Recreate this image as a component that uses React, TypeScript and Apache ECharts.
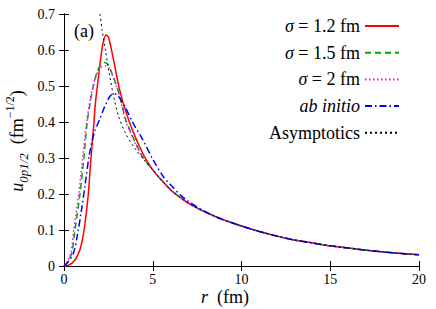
import React, { useEffect, useRef } from "react";
import * as echarts from "echarts";

// ---- data ----
const tailR = [5, 5.5, 6, 6.5, 7, 7.5, 8, 8.5, 9, 10, 11, 12, 13, 14, 15, 16, 17, 18, 19, 20];
const tailU = [0.267, 0.238, 0.212, 0.192, 0.175, 0.161, 0.149, 0.138, 0.128, 0.111, 0.096, 0.083, 0.072, 0.064, 0.056, 0.05, 0.044, 0.039, 0.035, 0.031];

const redR = [0, 0.3, 0.6, 0.8, 0.95, 1.1, 1.25, 1.37, 1.52, 1.69, 1.77, 1.88, 2.05, 2.2, 2.37, 2.5, 2.7, 2.9, 3.1, 3.3, 3.46, 3.7, 4.0, 4.3, 4.6];
const redU = [0, 0.003, 0.015, 0.033, 0.054, 0.09, 0.145, 0.2, 0.3, 0.4, 0.452, 0.5, 0.57, 0.62, 0.642, 0.636, 0.595, 0.545, 0.497, 0.458, 0.433, 0.398, 0.36, 0.327, 0.298];

const greenR = [0, 0.15, 0.43, 0.62, 0.9, 1.12, 1.31, 1.5, 1.65, 1.85, 2.05, 2.29, 2.5, 2.7, 2.97, 3.2, 3.49, 3.8, 4.1, 4.5];
const greenU = [0, 0.007, 0.035, 0.1, 0.2, 0.3, 0.4, 0.46, 0.5, 0.537, 0.558, 0.565, 0.558, 0.535, 0.5, 0.46, 0.405, 0.368, 0.335, 0.298];

const magentaR = [0, 0.15, 0.4, 0.55, 0.83, 1.05, 1.28, 1.45, 1.6, 1.8, 2.05, 2.33, 2.55, 2.75, 2.95, 3.2, 3.45, 3.8, 4.1, 4.5];
const magentaU = [0, 0.008, 0.04, 0.1, 0.2, 0.3, 0.4, 0.455, 0.49, 0.528, 0.55, 0.556, 0.55, 0.528, 0.5, 0.457, 0.405, 0.365, 0.332, 0.298];

const blueR = [0, 0.24, 0.53, 0.75, 1.0, 1.2, 1.43, 1.7, 1.99, 2.2, 2.41, 2.6, 2.8, 3.0, 3.2, 3.46, 3.9, 4.39, 5.03, 5.6, 6.0, 6.54, 7.0, 7.5, 8.0];
const blueU = [0, 0.012, 0.035, 0.085, 0.16, 0.23, 0.31, 0.37, 0.405, 0.432, 0.455, 0.472, 0.479, 0.475, 0.462, 0.44, 0.396, 0.355, 0.294, 0.248, 0.226, 0.198, 0.18, 0.164, 0.15];

const asymR = [2.03, 2.15, 2.33, 2.55, 2.8, 3.08, 3.46, 3.93, 4.58];
const asymU = [0.7, 0.655, 0.6, 0.535, 0.47, 0.415, 0.369, 0.331, 0.29];

const xTicks = [0, 5, 10, 15, 20];
const yTicks = [0, 0.1, 0.2, 0.3, 0.4, 0.5, 0.6, 0.7];

const seriesNames = ["σ = 1.2 fm", "σ = 1.5 fm", "σ = 2 fm", "ab initio", "Asymptotics"];

const FONT = "Liberation Serif";

function pairs(r: number[], u: number[], withTailFrom?: number) {
  const out: number[][] = r.map((x, i) => [x, u[i]]);
  if (withTailFrom !== undefined) {
    tailR.forEach((x, i) => {
      if (x >= withTailFrom) out.push([x, tailU[i]]);
    });
  }
  return out;
}

export default function App() {
  const ref = useRef<HTMLDivElement>(null);
  useEffect(() => {
    if (!ref.current) return;
    const chart = echarts.init(ref.current, undefined, { renderer: "svg" });
    const axisCommon = {
      axisLine: { show: true, lineStyle: { color: "#000", width: 1 } },
      axisTick: { show: true, inside: true, length: 5, lineStyle: { color: "#000" } },
      splitLine: { show: false },
    };
    const mkLine = (name: string, data: number[][], color: string, type: any, width: number) => ({
      name,
      type: "line",
      data,
      smooth: 0.3,
      symbol: "none",
      showSymbol: false,
      lineStyle: { color, type, width },
      itemStyle: { color },
    });
    chart.setOption({
      animation: false,
      backgroundColor: "#fff",
      grid: { left: 64, top: 14, right: 17, bottom: 43, containLabel: false },
      xAxis: [
        {
          type: "value",
          min: xTicks[0],
          max: xTicks[xTicks.length - 1],
          interval: 5,
          ...axisCommon,
          axisLabel: { show: true, margin: 6, color: "#000", fontFamily: FONT, fontSize: 14 },
        },
        {
          type: "value",
          position: "top",
          min: xTicks[0],
          max: xTicks[xTicks.length - 1],
          interval: 5,
          ...axisCommon,
          axisLabel: { show: false },
        },
      ],
      yAxis: [
        {
          type: "value",
          min: yTicks[0],
          max: yTicks[yTicks.length - 1],
          interval: 0.1,
          ...axisCommon,
          axisLabel: {
            show: true,
            margin: 9,
            color: "#000",
            fontFamily: FONT,
            fontSize: 14,
            formatter: (v: number) => (Math.abs(v) < 1e-9 ? "0" : v.toFixed(1)),
          },
        },
        {
          type: "value",
          position: "right",
          min: yTicks[0],
          max: yTicks[yTicks.length - 1],
          interval: 0.1,
          ...axisCommon,
          axisLabel: { show: false },
        },
      ],
      legend: {
        orient: "vertical",
        right: 31,
        top: 12,
        align: "right",
        itemWidth: 34,
        itemHeight: 10,
        itemGap: 8.7,
        data: seriesNames,
        itemStyle: { opacity: 0 },
        textStyle: {
          fontFamily: FONT,
          fontSize: 18,
          color: "#000",
          rich: {
            it: { fontFamily: FONT, fontSize: 18, fontStyle: "italic", color: "#000" },
            n: { fontFamily: FONT, fontSize: 18, color: "#000" },
          },
        },
        formatter: (name: string) => {
          if (name.startsWith("σ")) return "{it|σ}{n|" + name.slice(1) + "}";
          if (name === "ab initio") return "{it|ab initio}";
          return "{n|" + name + "}";
        },
      },
      graphic: [
        {
          type: "text",
          x: 84,
          y: 31,
          style: { text: "(a)", fontFamily: FONT, fontSize: 18, fill: "#000", align: "center", verticalAlign: "middle" },
        },
        {
          type: "text",
          x: 225,
          y: 297,
          style: {
            text: "{i|r}{n|  (fm)}",
            align: "center",
            verticalAlign: "middle",
            fill: "#000",
            rich: {
              i: { fontFamily: FONT, fontSize: 18, fontStyle: "italic", fill: "#000" },
              n: { fontFamily: FONT, fontSize: 18, fill: "#000" },
            },
          },
        },
        {
          type: "text",
          x: 17,
          y: 141,
          rotation: Math.PI / 2,
          style: {
            text: "{i|u}{sub|0p1/2}{n|  (fm}{sup|−1/2}{n|)}",
            align: "center",
            verticalAlign: "middle",
            fill: "#000",
            lineHeight: 26,
            rich: {
              i: { fontFamily: FONT, fontSize: 18, fontStyle: "italic", fill: "#000", lineHeight: 26 },
              sub: { fontFamily: FONT, fontSize: 13, fontStyle: "italic", fill: "#000", verticalAlign: "bottom", lineHeight: 18 },
              sup: { fontFamily: FONT, fontSize: 12, fill: "#000", verticalAlign: "top", lineHeight: 14 },
              n: { fontFamily: FONT, fontSize: 18, fill: "#000", lineHeight: 26 },
            },
          },
        },
      ],
      series: [
        mkLine(seriesNames[0], pairs(redR, redU, 5), "#ff0000", "solid", 1.5),
        mkLine(seriesNames[1], pairs(greenR, greenU, 5), "#00a800", [6, 4], 1.5),
        mkLine(seriesNames[2], pairs(magentaR, magentaU, 5), "#ff00ff", [1.5, 2.5], 1.5),
        mkLine(seriesNames[3], pairs(blueR, blueU, 8.5), "#0000ff", [7, 3, 1.5, 3], 1.5),
        mkLine(seriesNames[4], pairs(asymR, asymU, 5), "#000000", [2, 3], 1),
      ],
    });
    return () => chart.dispose();
  }, []);
  return <div ref={ref} style={{ position: "fixed", left: 0, top: 0, width: 436, height: 309 }} />;
}
